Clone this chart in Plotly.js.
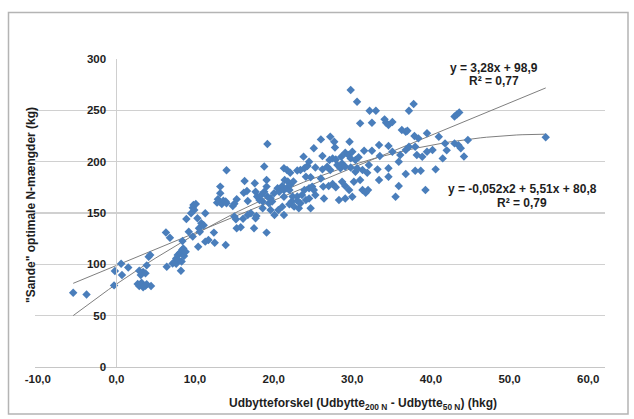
<!DOCTYPE html>
<html>
<head>
<meta charset="utf-8">
<script src="https://cdn.plot.ly/plotly-3.0.1.min.js"></script>
<style>
html,body{margin:0;padding:0;background:#fff;}
#chart{width:634px;height:419px;}
</style>
</head>
<body>
<div id="chart"></div>
<script>
// Udbytteforskel (hkg)
const xValues = [
 -5.31,-3.67,-0.29,-0.19,0.58,0.68,1.45,2.61,2.80,2.80,2.99,3.09,3.28,3.28,3.57,3.57,3.72,3.72,3.96,4.15,4.25,
 6.08,6.18,6.57,6.90,7.15,7.34,7.34,7.53,7.63,7.82,7.92,8.01,8.06,8.11,8.21,8.30,8.50,8.59,8.88,9.17,9.37,9.37,9.46,9.56,9.75,
 9.95,10.04,10.14,10.24,10.43,10.72,10.91,10.91,11.30,11.97,12.07,12.36,12.46,12.65,12.75,12.75,12.94,13.13,13.42,13.42,13.52,13.52,
 14.29,14.48,14.48,14.68,14.77,14.77,15.26,15.55,15.64,15.74,16.03,16.13,16.13,16.51,16.90,16.99,17.09,17.09,17.19,17.28,
 17.57,17.77,17.96,17.96,18.15,18.15,18.44,18.44,18.44,18.54,18.54,18.73,18.93,18.93,19.12,
 19.41,19.36,19.79,19.89,19.99,20.37,20.37,20.57,20.57,20.57,20.57,20.66,20.95,20.95,21.05,21.24,21.24,21.34,21.34,21.53,21.63,21.73,21.82,
 22.21,22.21,22.21,22.40,22.60,22.60,22.79,22.98,23.08,23.08,23.27,23.27,23.46,23.66,23.66,23.66,23.85,23.85,24.04,
 24.24,24.24,24.43,24.43,25.11,25.11,25.30,25.30,25.40,25.49,25.88,26.07,26.17,26.26,26.26,26.55,26.55,26.75,26.84,26.94,26.94,
 27.13,27.33,27.52,27.62,27.71,27.71,28.10,28.10,28.10,28.10,28.49,28.58,28.63,28.77,28.77,28.77,
 28.97,28.97,29.16,29.35,29.35,29.55,29.55,29.74,29.93,29.93,30.22,30.22,30.42,30.61,30.80,30.90,31.00,31.09,31.38,31.38,
 31.86,32.06,32.25,32.25,32.35,32.93,33.12,33.41,33.41,33.41,33.41,33.89,33.89,34.28,34.67,34.67,34.86,35.05,35.53,35.53,35.53,35.73,
 35.92,35.92,36.50,36.60,36.69,36.69,36.89,37.08,37.37,37.56,37.95,38.14,38.14,38.82,39.20,39.59,40.07,40.36,40.56,
 41.52,41.81,42.10,41.52,42.00,42.29,42.68,43.16,52.72
];
// "Sande" optimale N-mængder (kg)
const yValues = [
 72.4,70.7,79.5,93.5,100.6,89.6,97.0,80.8,78.9,93.8,89.6,82.1,77.6,92.5,79.2,91.2,80.5,99.0,107.4,109.0,78.9,
 131.1,97.7,125.9,100.9,102.6,105.8,100.5,109.0,104.2,111.3,93.8,102.8,113.9,122.7,115.5,108.1,112.3,144.1,131.8,149.7,127.0,155.0,157.8,153.0,158.8,
 144.8,117.2,135.1,131.8,140.0,138.0,149.7,122.1,123.7,130.9,121.1,160.1,163.5,161.1,175.7,169.2,158.8,162.0,161.1,118.9,191.6,159.5,
 156.9,146.5,159.0,143.9,163.3,135.1,136.1,144.5,169.8,181.2,171.5,161.7,148.1,149.7,135.1,178.9,144.8,170.8,147.0,166.0,
 162.7,167.6,161.1,154.6,195.2,170.8,182.2,175.7,130.9,217.2,166.0,159.5,164.3,153.0,161.1,
 148.1,169.2,174.1,152.9,170.8,176.3,156.2,172.4,165.9,148.1,193.5,182.2,191.9,174.1,180.6,172.4,158.5,177.3,189.3,161.1,166.0,180.6,156.2,
 166.0,162.0,191.3,154.6,159.4,191.9,167.6,204.9,172.4,193.5,185.4,162.7,195.8,174.1,199.9,164.2,184.8,154.6,175.7,
 213.0,172.4,194.4,167.5,221.7,183.7,205.5,192.5,175.7,164.2,195.1,176.3,201.6,224.3,191.8,203.2,178.2,219.4,213.9,202.2,175.0,
 196.7,162.6,193.5,204.8,198.3,180.5,208.7,195.1,176.3,164.2,206.5,172.4,219.4,269.8,203.2,194.4,
 209.7,165.9,180.5,201.6,190.2,258.4,193.5,204.2,237.3,182.1,191.8,172.4,210.7,169.8,189.2,172.4,196.7,249.6,237.9,210.7,
 249.6,192.5,216.2,182.1,205.5,241.2,237.9,235.7,215.2,193.5,185.3,238.6,209.7,165.9,199.9,176.3,206.4,230.8,229.2,211.3,187.9,230.2,
 249.6,214.6,256.1,225.0,214.6,191.2,206.4,222.7,191.2,204.8,172.4,227.6,209.7,211.3,192.5,224.3,203.2,217.8,211.0,
 244.0,246.0,248.0,217.8,216.0,213.0,205.0,221.1,223.7
];
// Trendline coefficients as printed on the chart
const linearCoef = [3.28, 98.9];          // slope, intercept
const quadCoef = [-0.052, 5.51, 80.8];     // a, b, c
const linearLabel = ['y = 3,28x + 98,9', 'R² = 0,77'];
const quadLabel = ['y = -0,052x2 + 5,51x + 80,8', 'R² = 0,79'];

const xTickNums = [-10, 0, 10, 20, 30, 40, 50, 60];
const xTickText = ['-10,0', '0,0', '10,0', '20,0', '30,0', '40,0', '50,0', '60,0'];
const yTickVals = [0, 50, 100, 150, 200, 250, 300];
const yTickText = ['0', '50', '100', '150', '200', '250', '300'];

const xTitle = 'Udbytteforskel (Udbytte<sub>200 N</sub> - Udbytte<sub>50 N</sub>) (hkg)';
const yTitle = '"Sande" optimale N-mængder (kg)';

// the original drawing places its category labels slightly compressed toward the axis origin
const LABEL_SQUEEZE = 0.9656;
const xTickVals = xTickNums.map(v => v * LABEL_SQUEEZE);

// trendlines over the data's x span
const xMin = Math.min(...xValues), xMax = Math.max(...xValues);
const tx = [];
for (let i = 0; i <= 80; i++) tx.push(xMin + (xMax - xMin) * i / 80);
const linY = tx.map(x => linearCoef[0] * x + linearCoef[1]);
const quadY = tx.map(x => quadCoef[0] * x * x + quadCoef[1] * x + quadCoef[2]);

const FONT = 'Liberation Sans, Arial, sans-serif';
const TXT = '#1e1e1e';

const traces = [
  {x: tx, y: linY, type: 'scatter', mode: 'lines', line: {color: '#7f7f7f', width: 1}, hoverinfo: 'skip'},
  {x: tx, y: quadY, type: 'scatter', mode: 'lines', line: {color: '#7f7f7f', width: 1}, hoverinfo: 'skip'},
  {x: xValues, y: yValues, type: 'scatter', mode: 'markers',
   marker: {symbol: 'diamond', size: 6.5, color: '#4A7EBB', line: {width: 0}}}
];

// plot area in px: left 35, right 605, top 59, bottom 367
const L = 35, R = 29, T = 59, B = 52, W = 634, H = 419;
const PW = W - L - R, PH = H - T - B;
const px = v => (v - L) / PW;
const py = v => (H - B - v) / PH;

const layout = {
  width: W, height: H,
  margin: {l: L, r: R, t: T, b: B, pad: 0},
  paper_bgcolor: '#ffffff', plot_bgcolor: '#ffffff',
  showlegend: false,
  font: {family: FONT, color: TXT},
  xaxis: {
    range: [-10, 60], tickvals: xTickVals, ticktext: xTickText,
    showgrid: false, zeroline: false, showline: true, linecolor: '#c6c6c6', linewidth: 1,
    ticks: '', ticklabelstandoff: 1,
    tickfont: {family: FONT, size: 11.5, color: TXT, weight: 700}
  },
  yaxis: {
    range: [0, 300], tickvals: yTickVals, ticktext: yTickText,
    anchor: 'free', position: 10 / 70,
    showgrid: true, gridcolor: '#d0d0d0', gridwidth: 1.2,
    zeroline: false, showline: true, linecolor: '#cfcfcf', linewidth: 1,
    ticks: '', ticklabelstandoff: 8,
    tickfont: {family: FONT, size: 11.5, color: TXT, weight: 700}
  },
  annotations: [
    {text: xTitle, xref: 'paper', yref: 'paper', x: px(363), y: py(404), xanchor: 'center', yanchor: 'middle',
     showarrow: false, font: {family: FONT, size: 12, color: TXT, weight: 700}},
    {text: yTitle, xref: 'paper', yref: 'paper', x: px(31), y: py(205), xanchor: 'center', yanchor: 'middle',
     textangle: -90, showarrow: false, font: {family: FONT, size: 12, color: TXT, weight: 700}},
    {text: linearLabel[0], xref: 'paper', yref: 'paper', x: px(494), y: py(68), xanchor: 'center', yanchor: 'middle',
     showarrow: false, font: {family: FONT, size: 12, color: TXT, weight: 700}},
    {text: linearLabel[1], xref: 'paper', yref: 'paper', x: px(494), y: py(81), xanchor: 'center', yanchor: 'middle',
     showarrow: false, font: {family: FONT, size: 12, color: TXT, weight: 700}},
    {text: quadLabel[0], xref: 'paper', yref: 'paper', x: px(522), y: py(189), xanchor: 'center', yanchor: 'middle',
     showarrow: false, font: {family: FONT, size: 12, color: TXT, weight: 700}},
    {text: quadLabel[1], xref: 'paper', yref: 'paper', x: px(522), y: py(203), xanchor: 'center', yanchor: 'middle',
     showarrow: false, font: {family: FONT, size: 12, color: TXT, weight: 700}}
  ],
  shapes: [
    {type: 'rect', xref: 'paper', yref: 'paper', x0: px(8.5), x1: px(628), y0: py(414), y1: py(12.5),
     line: {color: '#b4b4b4', width: 1.5}, fillcolor: 'rgba(0,0,0,0)', layer: 'below'}
  ]
};

Plotly.newPlot('chart', traces, layout, {staticPlot: true, displayModeBar: false});
</script>
</body>
</html>
